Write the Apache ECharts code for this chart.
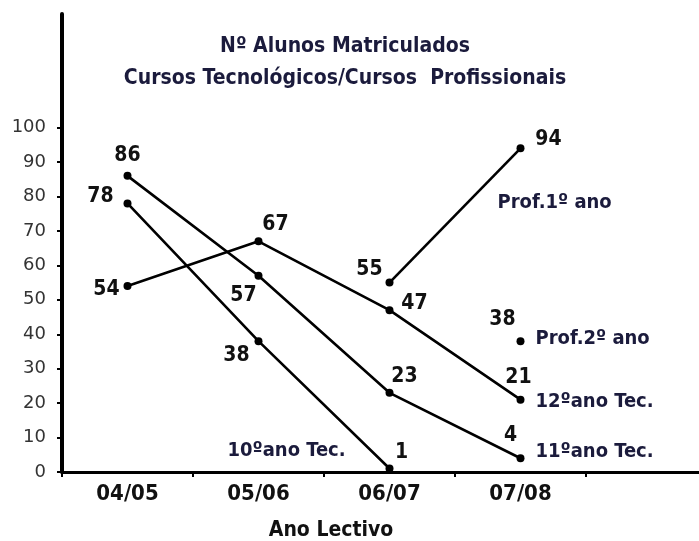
<!DOCTYPE html>
<html><head><meta charset="utf-8">
<script src="https://cdn.jsdelivr.net/npm/echarts@6/dist/echarts.min.js"></script>
<style>html,body{margin:0;padding:0;background:#fff}#c{width:699px;height:541px}</style>
</head><body><div id="c"></div>
<script>
// ---- data ----
const categories = ['04/05', '05/06', '06/07', '07/08', ''];
const yTicks = [0, 10, 20, 30, 40, 50, 60, 70, 80, 90, 100];
const ano10 = [78, 38, 1, null, null];
const ano11 = [86, 57, 23, 4, null];
const ano12 = [54, 67, 47, 21, null];
const prof1 = [null, null, 55, 94, null];
const prof2 = [null, null, null, 38, null];
const seriesNames = ['10ºano Tec.', '11ºano Tec.', '12ºano Tec.', 'Prof.1º ano', 'Prof.2º ano'];

// ---- styling (label offsets relative to each point) ----
const FONT = "'Liberation Sans Narrow', 'DejaVu Sans Condensed', sans-serif";
const valOffsets = [
  [[-27, -7], [-22, 14], [12, -16], null, null],
  [[0, -20], [-15, 20], [15, -16], [-10, -23], null],
  [[-21, 4], [17, -17], [25, -7], [-2, -22], null],
  [null, null, [-20, -13], [28, -9], null],
  [null, null, null, [-18, -22], null]
];
const nameAnchor = [2, 3, 3, 3, 3];
const nameOffsets = [[-162, -18], [15, -6], [15, 2], [-23, 54], [15, -2]];
const allData = [ano10, ano11, ano12, prof1, prof2];

const valLabel = { show: true, position: 'inside', align: 'center', verticalAlign: 'middle',
  fontFamily: FONT, fontWeight: 'bold', fontSize: 21, color: '#111' };

const series = [];
allData.forEach((arr, si) => {
  series.push({
    type: 'line', name: seriesNames[si], connectNulls: false,
    symbol: 'circle', symbolSize: 8, showAllSymbol: true,
    lineStyle: { color: '#000', width: 2.6 },
    itemStyle: { color: '#000' },
    data: arr.map((v, i) => v == null ? null : {
      value: v,
      label: Object.assign({}, valLabel, { offset: valOffsets[si][i] })
    }),
    z: 3
  });
  series.push({
    type: 'scatter', name: seriesNames[si] + '_n', symbolSize: 0, silent: true,
    itemStyle: { opacity: 1, color: '#000' },
    data: arr.map((v, i) => i === nameAnchor[si] ? v : null),
    label: { show: true, position: 'inside', align: 'left', verticalAlign: 'middle',
      offset: nameOffsets[si], formatter: () => seriesNames[si], opacity: 1,
      fontFamily: FONT, fontSize: 20, fontWeight: 'bold', color: '#1b1b3c' },
    z: 4
  });
});

const chart = echarts.init(document.getElementById('c'), null, { renderer: 'canvas' });
chart.setOption({
  animation: false,
  backgroundColor: '#fff',
  title: [
    { text: 'Nº Alunos Matriculados\nCursos Tecnológicos/Cursos  Profissionais',
      left: 340, top: 26, textAlign: 'center',
      textStyle: { fontFamily: FONT, fontSize: 21, fontWeight: 'bold', color: '#1b1b3c', lineHeight: 32 } },
    { text: 'Ano Lectivo', left: 326, top: 515, textAlign: 'center',
      textStyle: { fontFamily: FONT, fontSize: 21, fontWeight: 'bold', color: '#111' } }
  ],
  grid: { left: 62, top: 14, width: 655, bottom: 69, containLabel: false, outerBoundsMode: 'none' },
  xAxis: {
    type: 'category', data: categories, boundaryGap: true,
    axisLine: { lineStyle: { color: '#000', width: 3 } },
    axisTick: { show: true, length: 5, lineStyle: { color: '#000', width: 2 } },
    axisLabel: { margin: 11, fontFamily: FONT, fontWeight: 'bold', fontSize: 22, color: '#111' },
    splitLine: { show: false }
  },
  yAxis: {
    type: 'value', min: 0, max: 133,
    axisLine: { show: true, lineStyle: { color: '#000', width: 4 } },
    axisTick: { show: true, length: 5, customValues: yTicks, lineStyle: { color: '#000', width: 2 } },
    axisLabel: { customValues: yTicks, margin: 16, fontFamily: "'DejaVu Sans', sans-serif", fontSize: 18, color: '#333' },
    splitLine: { show: false }
  },
  series: series
});
</script></body></html>
